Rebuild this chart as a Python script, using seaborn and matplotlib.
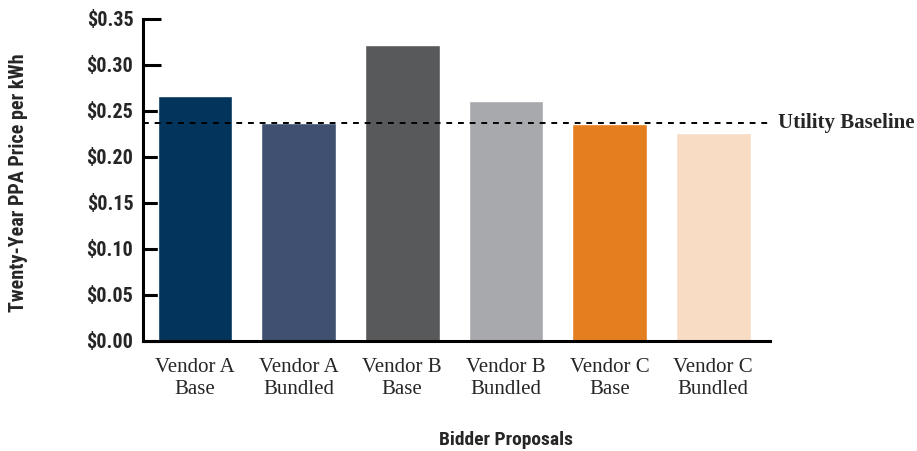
import matplotlib
matplotlib.use("Agg")
import matplotlib.pyplot as plt
from matplotlib import font_manager
import seaborn as sns
import pandas as pd

# ── Data ─────────────────────────────────────────────────────────────────────
proposals = ["Vendor A\nBase", "Vendor A\nBundled", "Vendor B\nBase",
             "Vendor B\nBundled", "Vendor C\nBase", "Vendor C\nBundled"]
prices    = [0.266, 0.237, 0.322, 0.261, 0.236, 0.226]
baseline  = 0.237
colors    = ["#02345C", "#3F5070", "#58595B", "#A8A9AD", "#E47F1F", "#F8DCC4"]
yticks    = [0.00, 0.05, 0.10, 0.15, 0.20, 0.25, 0.30, 0.35]

df = pd.DataFrame({"proposal": proposals, "price": prices})

sns.set_style("white")

# pick a narrow sans if one is around, else condensed DejaVu
names = {f.name for f in font_manager.fontManager.ttflist}
stretches = {(f.name, f.stretch) for f in font_manager.fontManager.ttflist}
narrow_kw = dict(family=["DejaVu Sans"], fontstretch="normal")
for cand in ("Liberation Sans Narrow", "Roboto Condensed", "Open Sans Condensed",
             "Noto Sans Condensed", "DejaVu Sans Condensed"):
    if cand in names:
        narrow_kw = dict(family=[cand, "DejaVu Sans"])
        break
else:
    for n, s in stretches:
        if n in ("Roboto", "Noto Sans", "Open Sans", "DejaVu Sans") and \
                s in ("condensed", "semi-condensed", 75, 87, 62):
            narrow_kw = dict(family=[n, "DejaVu Sans"], fontstretch="condensed")
            break
serif = ["Liberation Serif", "DejaVu Serif"]

fig = plt.figure(figsize=(9.17, 4.51), dpi=100)
ax = fig.add_axes([0.156, 0.244, 0.684, 0.714])

sns.barplot(data=df, x="proposal", y="price", hue="proposal",
            palette=colors, width=0.72, saturation=1, legend=False, ax=ax)

ax.axhline(baseline, color="black", linestyle=(0, (3, 3)), linewidth=1.4,
           clip_on=False)
ax.text(1.012, baseline, "Utility Baseline", transform=ax.get_yaxis_transform(),
        va="center", ha="left", fontsize=15, fontweight="bold", family=serif)

ax.set_xlim(-0.5, 5.55)
ax.set_ylim(0, 0.35)
ax.set_yticks(yticks)
ax.set_yticklabels([f"${v:.2f}" for v in yticks], fontsize=14.5,
                   fontweight="bold", **narrow_kw)
ax.tick_params(axis="y", left=True, direction="in", length=13, width=2.2,
               pad=7, color="black")
ax.tick_params(axis="x", bottom=False, length=0, pad=12)
for lab in ax.get_xticklabels():
    lab.set_fontsize(15)
    lab.set_family(serif)
    lab.set_linespacing(1.25)

sns.despine(ax=ax)
for s in ("left", "bottom"):
    ax.spines[s].set_linewidth(2.2)
    ax.spines[s].set_color("black")

ax.set_xlabel("Bidder Proposals", fontsize=14, fontweight="bold", **narrow_kw)
ax.xaxis.set_label_coords((506 - 143) / (770 - 143), -0.28)
ax.set_ylabel("Twenty-Year PPA Price per kWh", fontsize=14.5, fontweight="bold",
              **narrow_kw)
ax.yaxis.set_label_coords(-0.183, 0.49)

fig.savefig("out.png", dpi=100)
